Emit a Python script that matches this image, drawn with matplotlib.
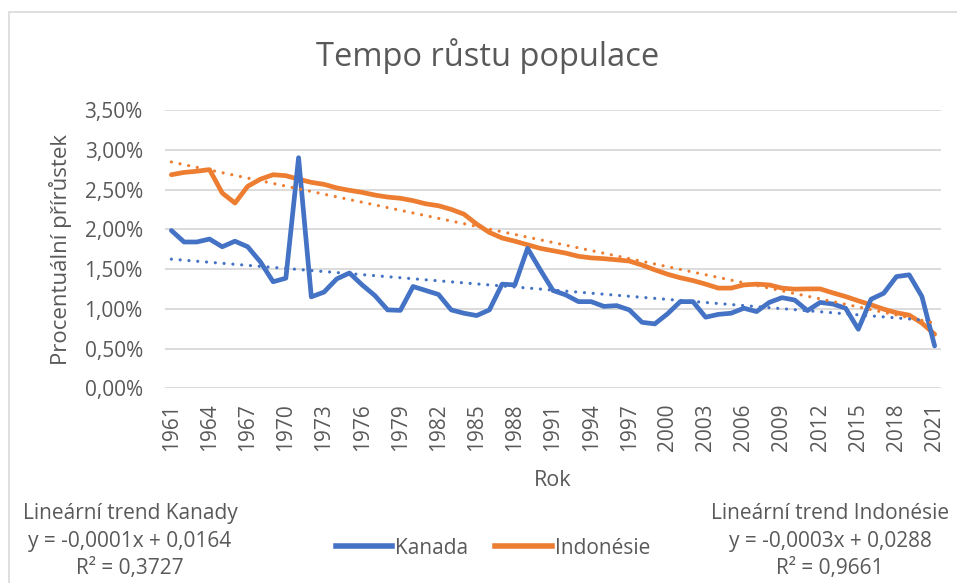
import numpy as np
import matplotlib
matplotlib.use("Agg")
import matplotlib.pyplot as plt
from matplotlib.patches import Rectangle
from matplotlib.lines import Line2D

years = list(range(1961, 2022))
kanada = [1.985, 1.84, 1.84, 1.877, 1.78, 1.85, 1.78, 1.59, 1.34, 1.385,
          2.90, 1.15, 1.21, 1.376, 1.45, 1.30, 1.166, 0.986, 0.98, 1.28,
          1.23, 1.18, 0.986, 0.944, 0.915, 0.986, 1.31, 1.30, 1.76, 1.49,
          1.23, 1.175, 1.09, 1.09, 1.03, 1.04, 0.986, 0.83, 0.81, 0.936,
          1.09, 1.09, 0.894, 0.93, 0.944, 1.007, 0.965, 1.08, 1.14, 1.11,
          0.977, 1.08, 1.06, 1.007, 0.743, 1.12, 1.196, 1.405, 1.427, 1.154,
          0.533]
indonesie = [2.686, 2.715, 2.73, 2.75, 2.456, 2.33, 2.54, 2.63, 2.686, 2.674,
             2.63, 2.59, 2.565, 2.52, 2.49, 2.464, 2.43, 2.405, 2.39, 2.36,
             2.32, 2.296, 2.25, 2.19, 2.065, 1.96, 1.89, 1.85, 1.805, 1.76,
             1.73, 1.70, 1.66, 1.64, 1.63, 1.616, 1.60, 1.55, 1.49, 1.435,
             1.39, 1.355, 1.31, 1.26, 1.26, 1.30, 1.31, 1.30, 1.26, 1.247,
             1.25, 1.25, 1.20, 1.154, 1.10, 1.05, 0.995, 0.95, 0.92, 0.82,
             0.68]
yticks = [0, 0.5, 1.0, 1.5, 2.0, 2.5, 3.0, 3.5]
xtick_years = list(range(1961, 2022, 3))

title = "Tempo růstu populace"
ylabel = "Procentuální přírůstek"
xlabel = "Rok"
trend_left = "Lineární trend Kanady\ny = -0,0001x + 0,0164\nR² = 0,3727"
trend_right = "Lineární trend Indonésie\ny = -0,0003x + 0,0288\nR² = 0,9661"

BLUE = "#4472C4"
ORANGE = "#ED7D31"
GRID = "#D9D9D9"
TXT = "#595959"

plt.rcParams['font.family'] = ['Open Sans', 'DejaVu Sans']

W, H = 957, 583
fig = plt.figure(figsize=(W / 100, H / 100), dpi=100)
fig.patch.set_facecolor("white")

# chart area border
fig.patches.append(Rectangle((9 / W, -0.1), 1.5, (1 - 12 / H) + 0.1,
                             transform=fig.transFigure, fill=False,
                             edgecolor=GRID, lw=1.2))

ax = fig.add_axes([165 / W, 1 - 388.3 / H, (941 - 165) / W, (388.3 - 110) / H])
x = np.array(years, dtype=float)
k = np.array(kanada) / 100
i = np.array(indonesie) / 100

ax.plot(x, k, color=BLUE, lw=3.4, solid_joinstyle='round', solid_capstyle='round', zorder=4)
ax.plot(x, i, color=ORANGE, lw=3.4, solid_joinstyle='round', solid_capstyle='round', zorder=3)

for arr, col in ((k, BLUE), (i, ORANGE)):
    c = np.polyfit(x, arr, 1)
    ax.plot(x, np.polyval(c, x), color=col, lw=2.3,
            linestyle=(0, (0.01, 2.75)), dash_capstyle='round', zorder=5)

ax.set_xlim(1960.5, 2021.5)
ax.set_ylim(0, 0.035)
ax.set_yticks([v / 100 for v in yticks])
ax.set_yticklabels([("%.2f%%" % v).replace(".", ",") for v in yticks])
ax.set_xticks(xtick_years)
ax.set_xticklabels([str(y) for y in xtick_years], rotation=90)
ax.grid(axis='y', color=GRID, lw=1.3)
ax.set_axisbelow(True)
for s in ax.spines.values():
    s.set_visible(False)
ax.tick_params(axis='both', length=0, colors=TXT, labelsize=15)
ax.tick_params(axis='y', pad=16)
ax.tick_params(axis='x', pad=11)

fig.text(488 / W, 1 - 56 / H, title, ha='center', va='center', fontsize=23.5, color=TXT)
fig.text(61 / W, 1 - 250 / H, ylabel, ha='center', va='center', rotation=90,
         fontsize=16, color=TXT)
fig.text(553 / W, 1 - 480 / H, xlabel, ha='center', va='center', fontsize=15.5, color=TXT)

fig.text(130 / W, 1 - 541 / H, trend_left, ha='center', va='center', fontsize=15,
         color=TXT, linespacing=1.4)
fig.text(830 / W, 1 - 541 / H, trend_right, ha='center', va='center', fontsize=15,
         color=TXT, linespacing=1.4)

handles = [Line2D([], [], color=BLUE, lw=4), Line2D([], [], color=ORANGE, lw=4)]
fig.legend(handles, ["Kanada", "Indonésie"], loc='center', bbox_to_anchor=(493 / W, 1 - 548 / H),
           ncol=2, frameon=False, fontsize=15, handlelength=2.7, handletextpad=0.15,
           columnspacing=1.3, labelcolor=TXT)

fig.savefig("out.png", dpi=100, facecolor="white")
